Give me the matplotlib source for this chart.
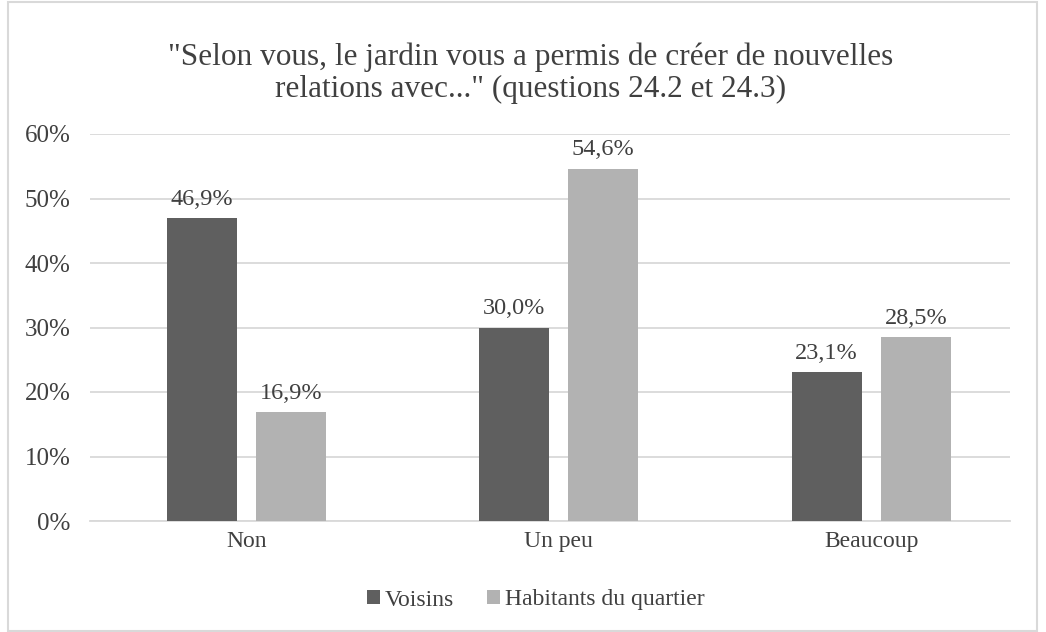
import matplotlib
matplotlib.use("Agg")
import matplotlib.pyplot as plt
import numpy as np
from matplotlib.patches import Rectangle

categories = ["Non", "Un peu", "Beaucoup"]
voisins = [46.9, 30.0, 23.1]
habitants = [16.9, 54.6, 28.5]
series_names = ["Voisins", "Habitants du quartier"]
yticks = [0, 10, 20, 30, 40, 50, 60]

plt.rcParams['font.family'] = ['Liberation Serif', 'DejaVu Serif']

W, H = 1046, 632
fig = plt.figure(figsize=(W / 100, H / 100), dpi=100)
fig.patches.append(Rectangle((7.5 / W, 1.5 / H), (1037 - 7.5) / W, (630 - 1.5) / H,
                             transform=fig.transFigure, fill=False,
                             edgecolor='#d9d9d9', linewidth=1.5))
ax = fig.add_axes([90 / W, 1 - 521 / H, 920 / W, (521 - 134) / H])

x = np.arange(len(categories))
w = 0.224
off = 0.1424
dark = '#5f5f5f'
light = '#b2b2b2'
b1 = ax.bar(x - off, voisins, w, color=dark, label=series_names[0], zorder=3)
b2 = ax.bar(x + off, habitants, w, color=light, label=series_names[1], zorder=3)

for bars, vals in ((b1, voisins), (b2, habitants)):
    for r, v in zip(bars, vals):
        ax.text(r.get_x() + r.get_width() / 2, v + 1.3, f"{v:.1f}%".replace('.', ','),
                ha='center', va='bottom', fontsize=17.5, color='#404040')

ax.set_xlim(-0.5, -0.5 + 920 / 312.5)
ax.set_ylim(0, 60)
ax.set_yticks(yticks)
ax.set_yticklabels([f"{t}%" for t in yticks], fontsize=18, color='#404040')
ax.set_xticks(x)
ax.set_xticklabels(categories, fontsize=17, color='#404040')
ax.tick_params(axis='both', length=0)
ax.tick_params(axis='y', pad=14)
ax.tick_params(axis='x', pad=7)
ax.yaxis.grid(True, color='#d9d9d9', linewidth=1.3, zorder=0)
for s in ['top', 'right', 'left']:
    ax.spines[s].set_visible(False)
ax.spines['bottom'].set_color('#d9d9d9')
ax.spines['bottom'].set_linewidth(1.3)

fig.text(531 / W, 1 - 73 / H,
         "\"Selon vous, le jardin vous a permis de créer de nouvelles\nrelations avec...\" (questions 24.2 et 24.3)",
         ha='center', va='center', fontsize=22.5, color='#404040', linespacing=1.12)

leg = fig.legend(loc='center', bbox_to_anchor=(536 / W, 1 - 600 / H), ncol=2, frameon=False,
                 fontsize=17, handlelength=0.55, handleheight=0.55, handletextpad=0.2,
                 columnspacing=1.4)
for t in leg.get_texts():
    t.set_color('#404040')

fig.savefig("out.png", dpi=100)
